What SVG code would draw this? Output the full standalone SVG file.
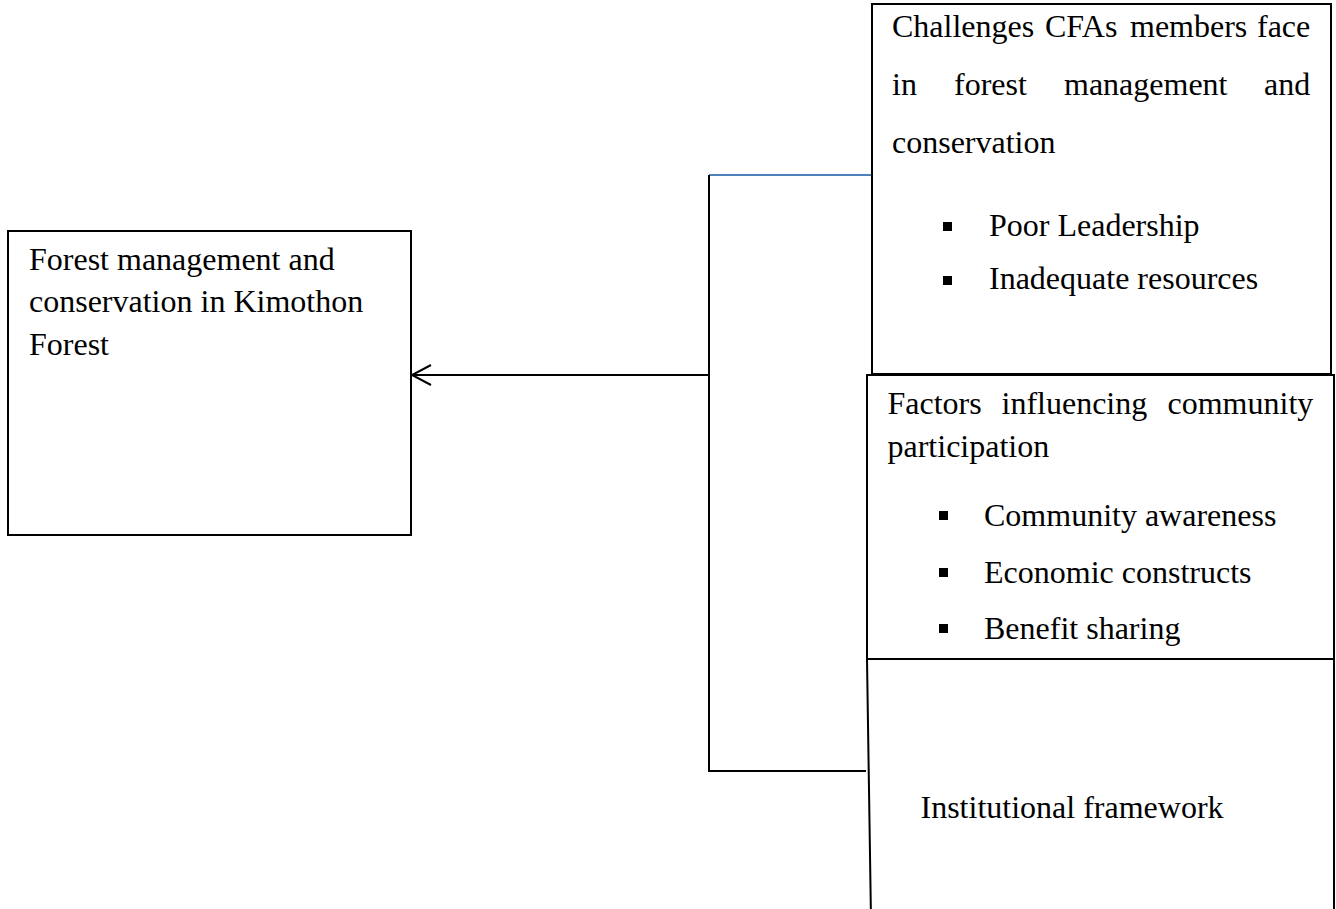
<svg xmlns="http://www.w3.org/2000/svg" width="1336" height="909" viewBox="0 0 1336 909">
<style>
.box{fill:#fff;stroke:#000;stroke-width:2}
.t{font-family:"Liberation Serif","Times New Roman",serif;font-size:32px;fill:#000}
.ln{fill:none;stroke:#000;stroke-width:2}
.blt{fill:#000}
</style>
<defs>
<marker id="arrow" markerWidth="24" markerHeight="24" refX="21" refY="12" orient="auto" markerUnits="userSpaceOnUse">
<path d="M2,2 L21,12 L2,22" fill="none" stroke="#000" stroke-width="2"/>
</marker>
</defs>
<rect width="1336" height="909" fill="#fff"/>
<g id="connectors">
<line x1="709" y1="175" x2="871" y2="175" stroke="#4f81bd" stroke-width="2"/>
<polyline class="ln" points="709,175 709,771 866,771"/>
<line class="ln" x1="709" y1="375" x2="412" y2="375" marker-end="url(#arrow)"/>
</g>
<g id="node-forest">
<rect class="box" x="8" y="231" width="403" height="304"/>
<text class="t" x="29" y="270">Forest management and</text>
<text class="t" x="29" y="312">conservation in Kimothon</text>
<text class="t" x="29" y="355">Forest</text>
</g>
<g id="node-challenges">
<rect class="box" x="872" y="4" width="459" height="370"/>
<text class="t" y="37"><tspan x="892">Challenges</tspan><tspan x="1045">CFAs</tspan><tspan x="1130">members</tspan><tspan x="1257">face</tspan></text>
<text class="t" y="95"><tspan x="892">in</tspan><tspan x="954">forest</tspan><tspan x="1064">management</tspan><tspan x="1264">and</tspan></text>
<text class="t" x="892" y="153">conservation</text>
<rect class="blt" x="943" y="222" width="9" height="9"/>
<text class="t" x="989" y="236">Poor Leadership</text>
<rect class="blt" x="943" y="276" width="9" height="9"/>
<text class="t" x="989" y="289">Inadequate resources</text>
</g>
<g id="node-factors">
<rect class="box" x="867" y="375" width="467" height="286"/>
<text class="t" y="414"><tspan x="887.5">Factors</tspan><tspan x="1001.5">influencing</tspan><tspan x="1167.5">community</tspan></text>
<text class="t" x="887.5" y="457">participation</text>
<rect class="blt" x="939" y="511" width="9" height="9"/>
<text class="t" x="984" y="526">Community awareness</text>
<rect class="blt" x="939" y="568" width="9" height="9"/>
<text class="t" x="984" y="583">Economic constructs</text>
<rect class="blt" x="939" y="624" width="9" height="9"/>
<text class="t" x="984" y="639">Benefit sharing</text>
</g>
<g id="node-institutional">
<path class="box" d="M867,659 L1334,659 L1334,920 L871,920 Z"/>
<text class="t" x="920.5" y="818">Institutional framework</text>
</g>
</svg>
